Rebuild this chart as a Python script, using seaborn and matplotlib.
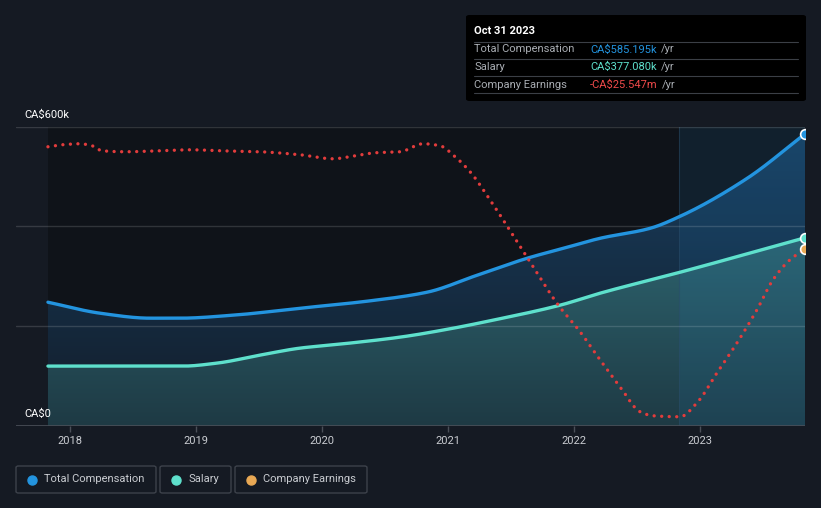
import numpy as np
import pandas as pd
import matplotlib
matplotlib.use("Agg")
import matplotlib.pyplot as plt
from matplotlib.patches import FancyBboxPatch
from matplotlib.colors import to_rgb
import seaborn as sns

# ---------------- data ----------------
comp_years = [2017.825, 2018.238, 2018.635, 2018.873, 2019.294, 2019.825, 2020.357, 2020.833,
              2021.230, 2021.627, 2021.944, 2022.206, 2022.603, 2022.841, 2023.373, 2023.833]
comp_values = [248, 226, 216, 216, 222, 236, 250, 268, 302, 336, 358, 376, 396, 420, 496, 585.195]

salary_years = [2017.825, 2018.897, 2019.167, 2019.508, 2019.825, 2020.143, 2020.619, 2021.0,
                2021.357, 2021.889, 2022.206, 2022.841, 2023.833]
salary_values = [120, 120, 126, 142, 156, 164, 178, 194, 212, 242, 266, 308, 377.08]

earn_years = [2017.825, 2017.937, 2018.079, 2018.175, 2018.254, 2018.437, 2018.714, 2018.952,
              2019.190, 2019.508, 2019.825, 2020.087, 2020.262, 2020.421, 2020.619, 2020.802,
              2020.937, 2021.056, 2021.175, 2021.333, 2021.437, 2021.635, 2021.873, 2022.048,
              2022.206, 2022.365, 2022.524, 2022.627, 2022.841, 2022.976, 2023.135, 2023.294,
              2023.452, 2023.579, 2023.714, 2023.833]
earn_values = [-5.1, -4.7, -4.5, -4.9, -5.9, -6.1, -5.9, -5.7, -5.9, -6.1, -6.7, -7.5, -6.9, -6.3,
               -6.1, -4.5, -4.9, -7.1, -10.1, -15.7, -19.7, -27.5, -36.7, -42.1, -47.7, -53.1,
               -58.1, -58.9, -59.1, -56.3, -50.3, -44.3, -37.7, -31.7, -27.7, -25.547]

tick_years = [2018, 2019, 2020, 2021, 2022, 2023]
tick_labels = ["2018", "2019", "2020", "2021", "2022", "2023"]
y_labels = ["CA$0", "CA$600k"]


def smooth(xs, ys, n=600):
    """Monotone cubic (Fritsch-Carlson) curve through the points, for drawing."""
    x = np.asarray(xs, float)
    y = np.asarray(ys, float)
    h = np.diff(x)
    d = np.diff(y) / h
    m = np.zeros_like(y)
    m[0], m[-1] = d[0], d[-1]
    for i in range(1, len(y) - 1):
        if d[i - 1] * d[i] <= 0:
            m[i] = 0
        else:
            w1 = 2 * h[i] + h[i - 1]
            w2 = h[i] + 2 * h[i - 1]
            m[i] = (w1 + w2) / (w1 / d[i - 1] + w2 / d[i])
    xx = np.linspace(x[0], x[-1], n)
    idx = np.clip(np.searchsorted(x, xx) - 1, 0, len(x) - 2)
    t = (xx - x[idx]) / h[idx]
    h00 = 2 * t**3 - 3 * t**2 + 1
    h10 = t**3 - 2 * t**2 + t
    h01 = -2 * t**3 + 3 * t**2
    h11 = t**3 - t**2
    yy = h00 * y[idx] + h10 * h[idx] * m[idx] + h01 * y[idx + 1] + h11 * h[idx] * m[idx + 1]
    return xx, yy


# ---------------- style ----------------
BG = "#151a23"
BLUE = "#2394df"
TEAL = "#5ee0cc"
RED = "#e23c3c"
ORANGE = "#e8a854"
TXT = "#c9ccd1"

sns.set_style("dark")
plt.rcParams["font.family"] = ["Roboto", "DejaVu Sans"]

W, H = 821, 508
fig = plt.figure(figsize=(W / 100, H / 100), dpi=100, facecolor=BG)

L, R, T, B = 16, 805, 126.5, 426
ax = fig.add_axes([L / W, (H - B) / H, (R - L) / W, (B - T) / H])
ax.set_facecolor(BG)
x0 = 2018 + (L - 70) / 126
x1 = 2023.833
ax.set_xlim(x0, x1)
ax.set_ylim(0, 600)

# dark plot region
ax.axvspan(2017.825, x1, color="#0f1319", zorder=0, lw=0)


def gradient_fill(xs, ys, c_bottom, c_top, vmax, z):
    poly = ax.fill_between(xs, ys, 0, facecolor="none", lw=0, zorder=z)
    cb, ct = np.array(to_rgb(c_bottom)), np.array(to_rgb(c_top))
    f = np.linspace(0, 1, 256)[:, None]
    img = (cb[None, :] * (1 - f) + ct[None, :] * f)[:, None, :]
    im = ax.imshow(img, extent=[x0, x1, 0, vmax], origin="lower", aspect="auto",
                   zorder=z, interpolation="bilinear")
    im.set_clip_path(poly.get_paths()[0], transform=ax.transData)


cx, cy = smooth(comp_years, comp_values)
sx, sy = smooth(salary_years, salary_values)
ex, ey = smooth(earn_years, earn_values)

gradient_fill(cx, cy, "#131d2a", "#183f60", 600, 1)
gradient_fill(sx, sy, "#1e3a44", "#2d636e", 377, 1.2)

# highlighted last year
ax.axvspan(2022.833, x1, color="#2080c0", alpha=0.12, zorder=2, lw=0)
ax.axvline(2022.833, color="#2a4a66", lw=0.8, alpha=0.5, zorder=2)
ax.set_xlim(x0, x1)
ax.set_ylim(0, 600)

# grid
for v in [200, 400, 600]:
    ax.axhline(v, color="white", alpha=0.14, lw=1, zorder=2.5)
ax.axhline(0, color="#4a4f58", lw=1.2, zorder=5)

# lines
df_c = pd.DataFrame({"year": cx, "v": cy})
df_s = pd.DataFrame({"year": sx, "v": sy})
sns.lineplot(data=df_c, x="year", y="v", ax=ax, color=BLUE, lw=2.4, zorder=4)
sns.lineplot(data=df_s, x="year", y="v", ax=ax, color=TEAL, lw=2.4, zorder=4)
ax.plot([comp_years[-1]], [comp_values[-1]], "o", ms=7, mfc=BLUE, mec="white", mew=1.2, zorder=6)
ax.plot([salary_years[-1]], [salary_values[-1]], "o", ms=7, mfc=TEAL, mec="white", mew=1.2, zorder=6)

# earnings on its own scale
ax2 = ax.twinx()
ax2.set_ylim(-25.547 - (B - 249) * 0.2, -25.547 + (249 - T) * 0.2)
df_e = pd.DataFrame({"year": ex, "v": ey})
sns.lineplot(data=df_e, x="year", y="v", ax=ax2, color=RED, lw=2.4,
             linestyle=(0, (0.01, 2.25)), dash_capstyle="round", zorder=5)
ax2.plot([earn_years[-1]], [earn_values[-1]], "o", ms=7, mfc=ORANGE, mec="white", mew=1.2, zorder=6)
ax2.set_xlim(x0, x1)
ax2.axis("off")

# axes cosmetics
ax.set_xlabel("")
ax.set_ylabel("")
ax.set_yticks([])
ax.set_xticks(tick_years)
ax.set_xticklabels(tick_labels, color=TXT, fontsize=8)
ax.tick_params(axis="x", length=4, width=1, color="#4a4f58", pad=3, bottom=True)
for s in ax.spines.values():
    s.set_visible(False)
ax.grid(False)

fig.text(24 / W, 1 - 115 / H, y_labels[1], color="white", fontsize=8, va="center", ha="left")
fig.text(24 / W, 1 - 414 / H, y_labels[0], color="white", fontsize=8, va="center", ha="left")

# tooltip box
tb = FancyBboxPatch((466 / W, 1 - 101 / H), (806 - 466) / W, (101 - 15) / H,
                    boxstyle="round,pad=0,rounding_size=0.004", transform=fig.transFigure,
                    facecolor="#000000", edgecolor="none", zorder=10)
fig.add_artist(tb)
fig.text(474 / W, 1 - 31 / H, "Oct 31 2023", color="white", fontsize=8, fontweight="bold",
         va="center", ha="left", zorder=11)
for yy in [41.7, 58.5, 76.3, 93.3]:
    fig.add_artist(plt.Line2D([474 / W, 798 / W], [1 - yy / H, 1 - yy / H],
                              transform=fig.transFigure, color="#3b3f46", lw=0.8, zorder=11))
rows = [("Total Compensation", "CA$585.195k", BLUE, 49.5),
        ("Salary", "CA$377.080k", TEAL, 67),
        ("Company Earnings", "-CA$25.547m", "#f04a4a", 84.5)]
for lab, val, col, yy in rows:
    fig.text(474 / W, 1 - yy / H, lab, color="#a9adb3", fontsize=8, va="center", ha="left", zorder=11)
    t = fig.text(590 / W, 1 - yy / H, val, color=col, fontsize=8, va="center", ha="left", zorder=11)
    fig.canvas.draw()
    bb = t.get_window_extent()
    fig.text((bb.x1 + 4) / W, 1 - yy / H, "/yr", color="#a9adb3", fontsize=8, va="center",
             ha="left", zorder=11)

# legend boxes
legend = [("Total Compensation", BLUE, 16, 156), ("Salary", TEAL, 160, 231),
          ("Company Earnings", ORANGE, 235, 367)]
for lab, col, a, b in legend:
    box = FancyBboxPatch((a / W, 1 - 493 / H), (b - a) / W, 27 / H,
                         boxstyle="round,pad=0,rounding_size=0.003", transform=fig.transFigure,
                         facecolor="none", edgecolor="#3d424b", lw=1, zorder=10)
    fig.add_artist(box)
    fig.add_artist(plt.Line2D([(a + 16) / W], [1 - 479.5 / H], marker="o", ms=6.5, color=col,
                              transform=fig.transFigure, zorder=11))
    fig.text((a + 28) / W, 1 - 479.5 / H, lab, color=TXT, fontsize=8, va="center", ha="left")

fig.savefig("out.png", dpi=100, facecolor=BG)
